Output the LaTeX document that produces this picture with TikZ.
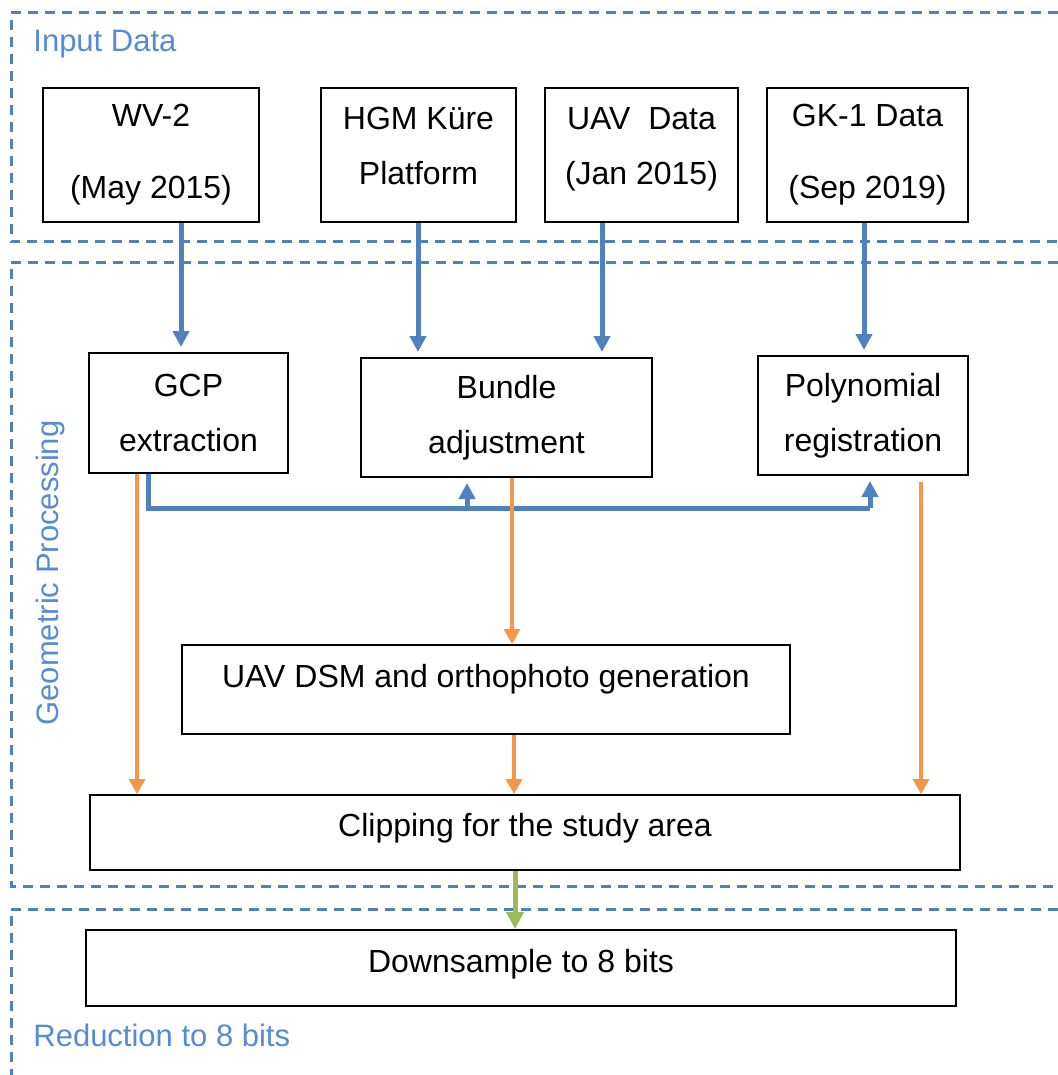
\documentclass[tikz,border=0pt]{standalone}
\usepackage{fontspec}
\setmainfont{Liberation Sans}
\usetikzlibrary{arrows.meta,calc}
\definecolor{frameblue}{RGB}{79,129,189}
\definecolor{labelblue}{RGB}{86,140,212}
\definecolor{arrowblue}{RGB}{79,129,189}
\definecolor{arroworange}{RGB}{247,150,70}
\definecolor{arrowgreen}{RGB}{155,187,89}
\begin{document}
\begin{tikzpicture}[x=0.5pt,y=-0.5pt,
  every node/.style={font=\fontsize{16}{27.5}\selectfont},
  procbox/.style={draw=black,line width=1pt,fill=white,align=center,inner sep=0pt},
  framedash/.style={draw=frameblue,line width=1.5pt,dash pattern=on 5pt off 3.5pt},
  grouplabel/.style={text=labelblue,font=\fontsize{15.5}{18}\selectfont,inner sep=0pt},
  barrow/.style={draw=arrowblue,line width=2.5pt,shorten >=2.5pt,-{Triangle[width=8pt,length=8pt]}},
  bline/.style={draw=arrowblue,line width=2.5pt},
  oarrow/.style={draw=arroworange,line width=2pt,-{Triangle[width=8pt,length=7.5pt]}},
  garrow/.style={draw=arrowgreen,line width=2.5pt,-{Triangle[width=8.5pt,length=8.5pt]}}
]
\useasboundingbox (0,0) rectangle (1058,1075);
\fill[white] (0,0) rectangle (1058,1075);

% group frames (open on the right)
\draw[framedash] (1058,13) -- (11,13) -- (11,242) -- (1058,242);
\draw[framedash] (1058,262) -- (11,262) -- (11,886) -- (1058,886);
\draw[framedash] (1058,909) -- (11,909) -- (11,1080);

\node[grouplabel,anchor=west] (lin) at (33,44) {Input Data};
\node[grouplabel,rotate=90] (lgp) at (50,573) {Geometric Processing};
\node[grouplabel,anchor=west] (lred) at (33,1035) {Reduction to 8 bits};

% input boxes
\node[procbox,minimum width=108pt,minimum height=67pt] (wv) at (151,155) {WV-2\\[8.5pt](May 2015)};
\node[procbox,minimum width=97.5pt,minimum height=67pt,text depth=9pt] (hgm) at (418.5,155) {HGM Küre\\Platform};
\node[procbox,minimum width=96.5pt,minimum height=67pt,text depth=9.4pt] (uav) at (641.5,155) {UAV\ \ Data\\(Jan 2015)};
\node[procbox,minimum width=100.5pt,minimum height=67pt] (gk) at (867.5,155) {GK-1 Data\\[8.5pt](Sep 2019)};

% processing boxes
\node[procbox,minimum width=99.5pt,minimum height=60pt] (gcp) at (188.5,413) {GCP\\extraction};
\node[procbox,minimum width=145.5pt,minimum height=59.5pt] (bun) at (506.5,417.5) {Bundle\\adjustment};
\node[procbox,minimum width=105pt,minimum height=59.5pt] (poly) at (863,415.5) {Polynomial\\registration};
\node[procbox,minimum width=304pt,minimum height=44.5pt,text height=11.8pt,text depth=13.7pt] (dsm) at (486,689.5) {UAV DSM and orthophoto generation};
\node[procbox,minimum width=435pt,minimum height=37.5pt,text height=11.8pt,text depth=7.7pt] (clip) at (525,832.5) {Clipping for the study area};
\node[procbox,minimum width=435pt,minimum height=38pt,text height=11.8pt,text depth=7.2pt] (down) at (521,968) {Downsample to 8 bits};

% x positions of connectors
\coordinate (xa) at (181,0);
\coordinate (xb) at (418,0);
\coordinate (xc) at (602,0);
\coordinate (xd) at (864,0);
\coordinate (j1) at (148,508);
\coordinate (j2) at (467,508);
\coordinate (j3) at (870,508);
\coordinate (o1) at (137,0);
\coordinate (o2) at (512,0);
\coordinate (o3) at (514,0);
\coordinate (o4) at (921,0);
\coordinate (g1) at (515,0);

% blue arrows
\draw[barrow] (wv.south -| xa) -- (gcp.north -| xa);
\draw[barrow] (hgm.south -| xb) -- (bun.north -| xb);
\draw[barrow] (uav.south -| xc) -- (bun.north -| xc);
\draw[barrow] (gk.south -| xd) -- (poly.north -| xd);
\draw[bline,line join=miter] (gcp.south -| j1) -- (j1) -- (j3);
\draw[barrow] (j3) -- (poly.south -| j3);
\draw[barrow] (j2) -- (bun.south -| j2);

% orange arrows
\draw[oarrow] (gcp.south -| o1) -- (clip.north -| o1);
\draw[oarrow] (bun.south -| o2) -- (dsm.north -| o2);
\draw[oarrow] (dsm.south -| o3) -- (clip.north -| o3);
\draw[oarrow] ($(poly.south -| o4)+(0,6)$) -- (clip.north -| o4);

% green arrow
\draw[garrow] (clip.south -| g1) -- (down.north -| g1);
\end{tikzpicture}
\end{document}
